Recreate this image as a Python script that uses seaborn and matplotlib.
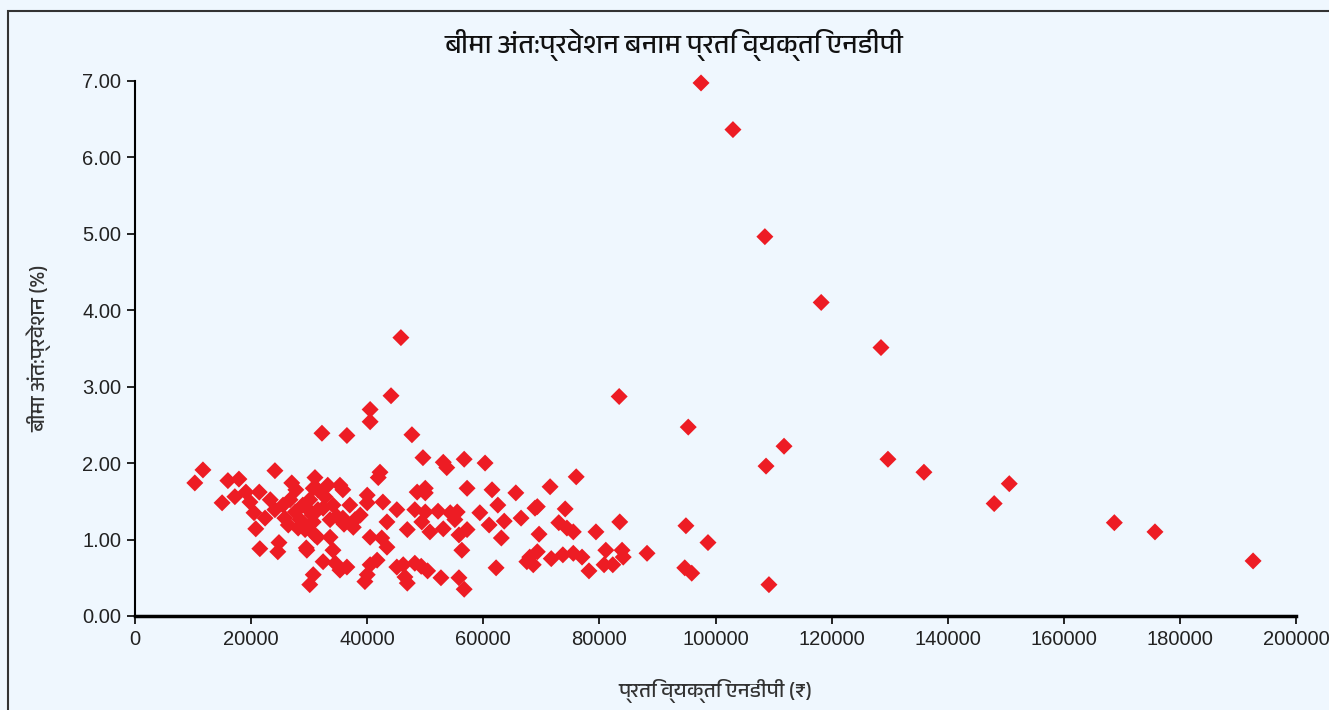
import matplotlib
matplotlib.use("Agg")
import matplotlib.pyplot as plt
from matplotlib import font_manager
from matplotlib.ft2font import FT2Font
from matplotlib.patches import Rectangle
import seaborn as sns
import pandas as pd

# ----------------------------------------------------------
# data: per capita NDP (Rs) vs insurance penetration (%)
# ----------------------------------------------------------

ndp_per_capita = [
    10300, 11700, 15000, 16000, 17900, 17200, 19100, 21400, 19800, 20500,
    22400, 20800, 21500, 24800, 24600, 24100, 27000, 27700, 30700, 29500,
    30700, 30100,
    24100, 25500, 26700, 25800, 27600, 28400, 28900, 30100, 30500, 31500,
    29300, 31000, 23300, 26400, 28100,
    31000, 31500, 35800, 35300, 33200, 40000, 40000, 42700, 45100, 43400,
    48200, 49600, 48600, 50000, 46900, 49400, 38800, 37600, 35800, 34800,
    33600, 32400, 29600, 30700, 31400, 33600, 29600, 40500, 42500, 43400,
    34100, 32400, 34500, 36500, 35300, 41700, 40500, 40000, 39600, 45100,
    46200, 46500, 46900, 48200, 49300, 50400, 42200, 41900,
    32700, 34100, 37000, 37900, 36000,
    53100, 53700, 56700, 60300, 50000, 57200, 61500, 65600, 62500, 68900,
    50000, 52200, 54300, 55500, 55100, 59400, 61000, 63600, 66500, 50800,
    53100, 55800, 57200, 63100, 56300, 69600, 52700, 55800, 56700, 62200,
    67500, 68600,
    76000, 71500, 69300, 74100, 73000, 74400, 75500, 79400, 83500, 69300,
    68000, 71700, 73700, 75500, 77000, 78200, 81100, 80800, 82300, 83900,
    84100, 88200,
    45800, 44100, 40500, 40500, 32200, 36500, 47700,
    97500, 103000, 108500, 118200, 128500, 83400, 95300, 111800, 108700,
    129700, 135900, 150600, 148000, 168700, 175700, 192600, 109200, 98700,
    94900, 94700, 95900,
]

penetration = [
    1.74, 1.91, 1.48, 1.77, 1.79, 1.56, 1.62, 1.62, 1.49, 1.35,
    1.28, 1.14, 0.88, 0.96, 0.84, 1.90, 1.74, 1.65, 1.67, 0.89,
    0.54, 0.41,
    1.39, 1.45, 1.52, 1.28, 1.36, 1.26, 1.45, 1.52, 1.32, 1.39,
    1.13, 1.06, 1.52, 1.19, 1.15,
    1.81, 1.65, 1.65, 1.71, 1.71, 1.58, 1.48, 1.49, 1.39, 1.23,
    1.39, 2.07, 1.62, 1.61, 1.13, 1.23, 1.32, 1.16, 1.28, 1.30,
    1.26, 1.41, 1.41, 1.23, 1.03, 1.03, 0.86, 1.03, 1.02, 0.90,
    0.86, 0.71, 0.69, 0.64, 0.60, 0.73, 0.67, 0.54, 0.45, 0.64,
    0.67, 0.51, 0.43, 0.69, 0.65, 0.59, 1.88, 1.81,
    1.56, 1.45, 1.45, 1.26, 1.20,
    2.01, 1.94, 2.05, 2.00, 1.67, 1.67, 1.65, 1.61, 1.45, 1.41,
    1.36, 1.37, 1.35, 1.36, 1.26, 1.35, 1.19, 1.24, 1.28, 1.10,
    1.14, 1.06, 1.13, 1.02, 0.86, 1.07, 0.50, 0.50, 0.35, 0.63,
    0.71, 0.67,
    1.82, 1.69, 1.43, 1.40, 1.22, 1.15, 1.10, 1.10, 1.23, 0.84,
    0.77, 0.75, 0.80, 0.82, 0.77, 0.59, 0.86, 0.67, 0.67, 0.86,
    0.77, 0.82,
    3.64, 2.88, 2.70, 2.54, 2.39, 2.36, 2.37,
    6.97, 6.36, 4.96, 4.10, 3.51, 2.87, 2.47, 2.22, 1.96,
    2.05, 1.88, 1.73, 1.47, 1.22, 1.10, 0.72, 0.41, 0.96,
    1.18, 0.63, 0.56,
]

x_ticks = list(range(0, 200001, 20000))
y_ticks = [0, 1, 2, 3, 4, 5, 6, 7]

title = "बीमा अंत:प्रवेशन बनाम प्रति व्यक्ति एनडीपी"
x_label = "प्रति व्यक्ति एनडीपी (₹)"
y_label = "बीमा अंत:प्रवेशन (%)"

BG = "#EFF7FE"
RED = "#ED1C24"
NUM_FONT = ["Liberation Sans", "DejaVu Sans"]


def find_devanagari_family():
    """first installed family that has Devanagari glyphs, if any"""
    found = []
    for f in font_manager.fontManager.ttflist:
        try:
            cmap = FT2Font(f.fname).get_charmap()
        except Exception:
            continue
        if 0x0915 in cmap and 0x093F in cmap:
            found.append(f.name)
    found.sort(key=lambda n: 0 if "Devanagari" in n else 1)
    return found[0] if found else None


def main():
    df = pd.DataFrame({"ndp": ndp_per_capita, "pen": penetration})

    sns.set_style("white")
    deva = find_devanagari_family()
    families = ([deva] if deva else []) + NUM_FONT
    plt.rcParams["font.family"] = families

    fig = plt.figure(figsize=(13.29, 7.10), dpi=100, facecolor=BG)
    ax = fig.add_axes([0.1016, 0.1324, 0.8736, 0.754])
    ax.set_facecolor(BG)

    sns.scatterplot(data=df, x="ndp", y="pen", ax=ax, marker="D",
                    color=RED, s=75, linewidth=0, edgecolor="none",
                    legend=False)
    for coll in ax.collections:
        coll.set_clip_on(False)

    ax.set_xlim(0, 200000)
    ax.set_ylim(0, 7)
    ax.set_xticks(x_ticks)
    ax.set_xticklabels([str(t) for t in x_ticks], family=NUM_FONT)
    ax.set_yticks(y_ticks)
    ax.set_yticklabels([f"{t:.2f}" for t in y_ticks], family=NUM_FONT)
    ax.tick_params(axis="both", which="major", labelsize=14.5,
                   direction="out", length=6, width=1.2, color="black",
                   labelcolor="#222222", left=True, bottom=True, pad=4)

    for side in ["top", "right"]:
        ax.spines[side].set_visible(False)
    ax.spines["left"].set_color("black")
    ax.spines["left"].set_linewidth(1.5)
    ax.spines["bottom"].set_color("black")
    ax.spines["bottom"].set_linewidth(2.5)

    ax.set_xlabel(x_label, fontsize=15, color="#333333", labelpad=22)
    ax.set_ylabel(y_label, fontsize=15, color="#333333", labelpad=22)

    fig.text(0.507, 0.936, title, ha="center", va="center",
             fontsize=19.5, fontweight="bold", color="#111111")

    # panel frame, open at the bottom
    fig.patches.append(Rectangle((8 / 1329, -0.1), 1.2, 1.1 - 11 / 710,
                                 transform=fig.transFigure, fill=False,
                                 edgecolor="#333333", linewidth=1.5))

    fig.savefig("out.png", dpi=100, facecolor=BG)


if __name__ == "__main__":
    main()
